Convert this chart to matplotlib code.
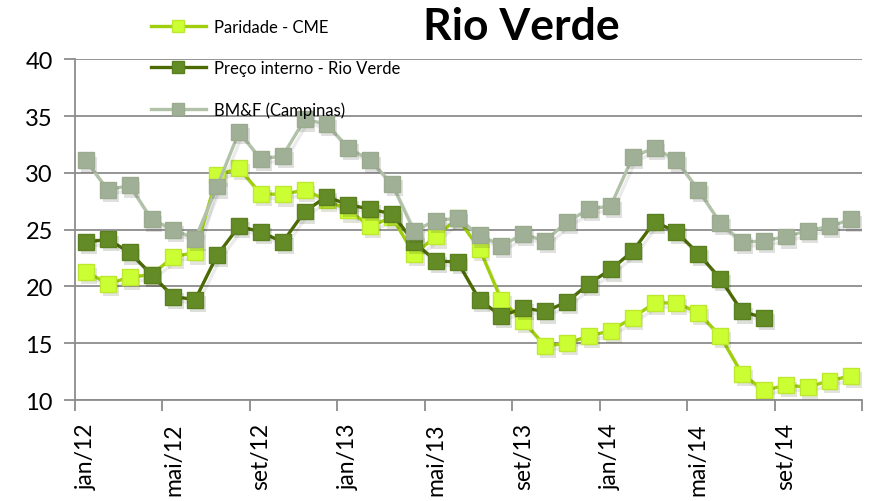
import matplotlib
matplotlib.use("Agg")
import matplotlib.pyplot as plt
import matplotlib.patheffects as pe
from matplotlib.lines import Line2D

plt.rcParams['font.family'] = ['Lato', 'DejaVu Sans']

months = ['jan/12', 'fev/12', 'mar/12', 'abr/12', 'mai/12', 'jun/12', 'jul/12', 'ago/12',
          'set/12', 'out/12', 'nov/12', 'dez/12', 'jan/13', 'fev/13', 'mar/13', 'abr/13',
          'mai/13', 'jun/13', 'jul/13', 'ago/13', 'set/13', 'out/13', 'nov/13', 'dez/13',
          'jan/14', 'fev/14', 'mar/14', 'abr/14', 'mai/14', 'jun/14', 'jul/14', 'ago/14',
          'set/14', 'out/14', 'nov/14', 'dez/14']

paridade = [21.3, 20.25, 20.8, 21.05, 22.6, 23.0, 29.8, 30.4, 28.15, 28.1, 28.5, 27.6,
            26.7, 25.3, 26.1, 22.85, 24.4, 26.0, 23.3, 18.8, 16.95, 14.75, 15.0, 15.65,
            16.1, 17.25, 18.55, 18.55, 17.7, 15.65, 12.3, 10.85, 11.3, 11.15, 11.7, 12.15]

preco_interno = [23.9, 24.15, 23.0, 21.05, 19.1, 18.85, 22.75, 25.3, 24.8, 23.9, 26.6, 27.9,
                 27.2, 26.8, 26.4, 23.9, 22.25, 22.15, 18.8, 17.4, 18.1, 17.8, 18.65, 20.25,
                 21.5, 23.1, 25.7, 24.8, 22.9, 20.7, 17.8, 17.25]

bmf = [31.1, 28.5, 28.9, 25.9, 25.0, 24.2, 28.8, 33.6, 31.2, 31.5, 34.7, 34.3,
       32.2, 31.1, 29.0, 24.9, 25.8, 26.0, 24.5, 23.6, 24.6, 24.0, 25.7, 26.8,
       27.1, 31.4, 32.2, 31.1, 28.5, 25.6, 23.9, 24.0, 24.4, 24.9, 25.3, 25.9]

fig = plt.figure(figsize=(8.69, 5.02), dpi=100)
ax = fig.add_axes([0.0863, 0.201, 0.906, 0.679])

line_shadow = [pe.SimpleLineShadow(offset=(2, -3), alpha=0.08), pe.Normal()]
mark_shadow = [pe.SimplePatchShadow(offset=(2, -3), alpha=0.15), pe.Normal()]

series = [
    (paridade, 'Paridade - CME', '#9fcf0c', '#ccff33', '#bde830'),
    (preco_interno, 'Preço interno - Rio Verde', '#4c6a04', '#648c26', '#5a8020'),
    (bmf, 'BM&F (Campinas)', '#b2c2a8', '#a0b096', '#9aab90'),
]
handles = []
for vals, label, lc, fc, ec in series:
    xs = range(len(vals))
    ax.plot(xs, vals, color=lc, lw=2.4, path_effects=line_shadow)
    ax.plot(xs, vals, ls='none', marker='s', markersize=11.5,
            markerfacecolor=fc, markeredgecolor=ec, markeredgewidth=1,
            path_effects=mark_shadow)
    handles.append(Line2D([], [], color=lc, lw=2.4, marker='s', markersize=9,
                          markerfacecolor=fc, markeredgecolor=ec, label=label))

ax.set_xlim(-0.5, 35.5)
ax.set_ylim(10, 40)
ax.set_yticks([10, 15, 20, 25, 30, 35, 40])
ax.grid(axis='y', color='#8c8c8c', lw=1.3)
ax.set_axisbelow(True)

ax.set_xticks([x - 0.5 for x in range(0, 37, 4)])
ax.set_xticklabels([])
ax.set_xticks(range(0, 36, 4), minor=True)
ax.set_xticklabels(months[::4], minor=True, rotation=90, fontsize=16.5)
ax.tick_params(axis='x', which='major', length=8, width=1.3, color='#8c8c8c', direction='out')
ax.tick_params(axis='x', which='minor', length=0, pad=16)
ax.tick_params(axis='y', length=8, width=1.3, color='#8c8c8c', labelsize=17, pad=8)

for s in ['top', 'right']:
    ax.spines[s].set_visible(False)
for s in ['left', 'bottom']:
    ax.spines[s].set_color('#8c8c8c')
    ax.spines[s].set_linewidth(1.3)

fig.text(0.600, 0.946, 'Rio Verde', fontsize=32, fontweight='bold', ha='center', va='center')

leg = fig.legend(handles=handles, loc='upper left', bbox_to_anchor=(0.156, 0.99), frameon=False,
                 fontsize=12, handlelength=3.3, labelspacing=1.5, handletextpad=0.5)

fig.savefig('out.png', dpi=100)
